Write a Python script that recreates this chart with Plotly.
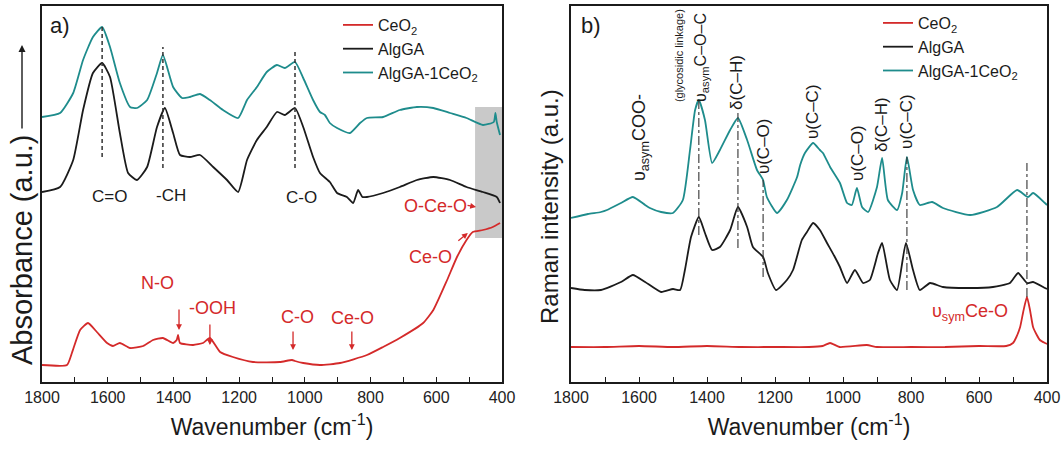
import plotly.graph_objects as go

# ---------------- data (wavenumber in cm-1, intensity in arbitrary units) -------------
# FTIR (panel a)
ir_w_ceo2 = [1800, 1724, 1709, 1684, 1660, 1633, 1602, 1584, 1563, 1532, 1492, 1462, 1432, 1401,
             1390, 1386, 1380, 1340, 1310, 1289, 1258, 1219, 1158, 1076, 1039, 1030, 1005, 954,
             893, 811, 762, 711, 640, 609, 567, 537, 508, 489, 458, 428, 406]
ir_a_ceo2 = [17, 17, 29, 52, 59, 50, 39, 36, 39, 34, 36, 42, 44, 39,
             42, 47, 39, 37, 39, 44, 30, 25, 20, 20, 22, 21, 19, 17,
             19, 27, 35, 44, 59, 72, 102, 125, 142, 150, 152, 155, 159]

ir_w_alg = [1800, 1745, 1705, 1675, 1645, 1617, 1593, 1563, 1538, 1511, 1480, 1450, 1426, 1401,
            1380, 1350, 1319, 1279, 1237, 1203, 1176, 1146, 1116, 1085, 1061, 1030, 1005, 975,
            954, 924, 902, 872, 853, 838, 825, 811, 762, 711, 659, 609, 558, 508, 458, 416, 406]
ir_a_alg = [190, 195, 222, 272, 309, 319, 305, 249, 209, 202, 215, 255, 274, 249,
            227, 225, 227, 215, 202, 190, 222, 242, 255, 270, 267, 274, 255, 225,
            209, 200, 189, 185, 179, 192, 185, 185, 189, 195, 202, 205, 202, 195, 190, 185, 179]

ir_w_comp = [1800, 1745, 1705, 1675, 1645, 1617, 1593, 1563, 1532, 1511, 1480, 1450, 1432, 1401,
             1374, 1350, 1319, 1289, 1249, 1203, 1176, 1146, 1116, 1085, 1061, 1030, 1005, 975,
             954, 939, 924, 902, 863, 832, 811, 762, 711, 659, 609, 558, 508, 458, 425, 420, 416, 406]
ir_a_comp = [265, 269, 289, 322, 345, 355, 335, 299, 275, 274, 282, 309, 327, 295,
             284, 285, 288, 282, 272, 264, 282, 295, 310, 317, 314, 320, 304, 282,
             270, 267, 259, 254, 249, 259, 264, 265, 272, 275, 274, 269, 264, 257, 260, 269, 260, 247]

# Raman (panel b)
ra_w_ceo2 = [1800, 1700, 1600, 1500, 1400, 1300, 1200, 1100, 1060, 1038, 1010, 930, 900, 800,
             700, 600, 520, 500, 490, 479, 470, 459, 450, 441, 430, 421, 406, 400]
ra_i_ceo2 = [35, 35, 36, 35, 36, 35, 35, 35, 36, 39, 35, 37, 35, 35,
             35, 36, 36, 39, 45, 55, 70, 85, 72, 55, 47, 42, 39, 38]

ra_w_alg = [1800, 1760, 1712, 1653, 1618, 1582, 1535, 1500, 1479, 1465, 1447, 1424, 1406, 1385,
            1362, 1332, 1309, 1282, 1265, 1235, 1221, 1197, 1165, 1147, 1121, 1106, 1088, 1068,
            1047, 1024, 1009, 988, 965, 941, 921, 897, 885, 862, 841, 815, 794, 774, 744, 706,
            626, 559, 509, 485, 459, 441, 406, 400]
ra_i_alg = [94, 92, 92, 100, 107, 100, 90, 93, 92, 112, 145, 165, 149, 132,
            135, 152, 175, 155, 135, 125, 109, 92, 102, 112, 142, 150, 159, 152,
            139, 125, 115, 99, 112, 99, 102, 129, 139, 102, 92, 139, 112, 92, 99, 95,
            94, 95, 99, 109, 99, 100, 94, 93]

ra_w_comp = [1800, 1750, 1712, 1694, 1653, 1618, 1582, 1568, 1535, 1500, 1471, 1450, 1435, 1424,
             1406, 1385, 1362, 1332, 1309, 1282, 1253, 1235, 1224, 1194, 1165, 1135, 1126, 1112,
             1088, 1068, 1059, 1038, 1009, 988, 974, 959, 944, 926, 900, 885, 868, 841, 826,
             812, 794, 774, 738, 706, 626, 547, 488, 456, 441, 406, 400]
ra_i_comp = [164, 168, 170, 172, 179, 185, 177, 174, 170, 169, 182, 232, 272, 282,
             262, 219, 232, 252, 264, 242, 212, 202, 185, 169, 182, 205, 217, 229,
             239, 232, 229, 215, 199, 179, 177, 194, 175, 170, 195, 224, 182, 172, 189,
             225, 192, 177, 180, 174, 167, 175, 192, 185, 189, 179, 177]

series_names = ["CeO<sub>2</sub>", "AlgGA", "AlgGA-1CeO<sub>2</sub>"]
x_ticks = [1800, 1600, 1400, 1200, 1000, 800, 600, 400]

# peak markers
ir_mark_w = [1617, 1432, 1030]
ir_mark_top = [355, 335, 332]
ir_mark_bot = [225, 214, 214]
ir_mark_lbl = ["C=O", "-CH", "C-O"]
ir_lbl_w = [1596, 1407, 1009]
ir_lbl_a = [186, 187, 185]

ra_mark_w = [1424, 1309, 1235, 812, 459]
ra_mark_top = [282, 272, 202, 225, 219]
ra_mark_bot = [147, 134, 105, 92, 85]

# ---------------- styling ----------------
W, H = 1062, 450
FONT = "Arial, Liberation Sans, sans-serif"
RED = "#d42a2a"
BLACK = "#1b1b1b"
TEAL = "#1e8c8c"
colors = [RED, BLACK, TEAL]


def px(p):
    return p / W


def py(p):
    return 1 - p / H


fig = go.Figure()

ir_sets = [(ir_w_ceo2, ir_a_ceo2), (ir_w_alg, ir_a_alg), (ir_w_comp, ir_a_comp)]
ra_sets = [(ra_w_ceo2, ra_i_ceo2), (ra_w_alg, ra_i_alg), (ra_w_comp, ra_i_comp)]

for (xs, ys), name, c in zip(ir_sets, series_names, colors):
    fig.add_trace(go.Scatter(x=xs, y=ys, mode="lines", name=name, legend="legend",
                             line=dict(color=c, width=1.8, shape="spline", smoothing=0.5),
                             xaxis="x", yaxis="y"))
for (xs, ys), name, c in zip(ra_sets, series_names, colors):
    fig.add_trace(go.Scatter(x=xs, y=ys, mode="lines", name=name, legend="legend2",
                             line=dict(color=c, width=1.8, shape="spline", smoothing=0.5),
                             xaxis="x2", yaxis="y2"))

shapes = []
# gray highlight box (panel a)
shapes.append(dict(type="rect", xref="x", yref="y", x0=482, x1=400, y0=144, y1=275,
                   fillcolor="#c9c9c9", line=dict(width=0), layer="below"))
for w, t, b in zip(ir_mark_w, ir_mark_top, ir_mark_bot):
    shapes.append(dict(type="line", xref="x", yref="y", x0=w, x1=w, y0=b, y1=t,
                       line=dict(color="#333333", width=1.5, dash="4px,3px")))
for w, t, b in zip(ra_mark_w, ra_mark_top, ra_mark_bot):
    shapes.append(dict(type="line", xref="x2", yref="y2", x0=w, x1=w, y0=b, y1=t,
                       line=dict(color="#333333", width=1.1, dash="dashdot")))

ann = []
# panel letters
ann.append(dict(x=1745, y=356, xref="x", yref="y", text="a)", showarrow=False,
                font=dict(size=22, color=BLACK, family=FONT)))
ann.append(dict(x=1741, y=356, xref="x2", yref="y2", text="b)", showarrow=False,
                font=dict(size=22, color=BLACK, family=FONT)))
for t, w, a in zip(ir_mark_lbl, ir_lbl_w, ir_lbl_a):
    ann.append(dict(x=w, y=a, xref="x", yref="y", text=t, showarrow=False,
                    font=dict(size=17, color=BLACK, family=FONT)))

# red labels in panel a
red_lbls = [("N-O", 1447, 99), ("-OOH", 1280, 74), ("C-O", 1021, 65), ("Ce-O", 854, 64),
            ("Ce-O", 619, 125), ("O-Ce-O", 601, 176)]
for t, w, a in red_lbls:
    ann.append(dict(x=w, y=a, xref="x", yref="y", text=t, showarrow=False,
                    font=dict(size=18, color=RED, family=FONT)))
# red arrows (tip position, tail offset in px)
red_arrows = [(1383, 52, 0, -22), (1289, 37, 0, -22), (1036, 32, 0, -20), (857, 32, 0, -20),
              (504, 149, -11, 9), (479, 175, -10, -2)]
for w, a, ax, ay in red_arrows:
    ann.append(dict(x=w, y=a, xref="x", yref="y", text="", showarrow=True, ax=ax, ay=ay,
                    arrowhead=2, arrowsize=0.9, arrowwidth=1.3, arrowcolor=RED, standoff=0))

# rotated labels in panel b
ra_lbls = [("υ<sub>asym</sub>COO-", 1597, 244, 18),
           ("(glycosidic linkage)", 1482, 326, 11),
           ("υ<sub>asym</sub>C–O–C", 1415, 325, 16),
           ("δ(C–H)", 1312, 300, 17),
           ("υ(C–O)", 1235, 236, 17),
           ("υ(C–C)", 1088, 270, 17),
           ("υ(C–O)", 959, 229, 17),
           ("δ(C–H)", 885, 257, 17),
           ("υ(C–C)", 812, 261, 17)]
for t, w, a, s in ra_lbls:
    ann.append(dict(x=w, y=a, xref="x2", yref="y2", text=t, showarrow=False, textangle=-90,
                    font=dict(size=s, color=BLACK, family=FONT)))
ann.append(dict(x=626, y=70, xref="x2", yref="y2", text="υ<sub>sym</sub>Ce-O", showarrow=False,
                font=dict(size=18, color=RED, family=FONT)))

# y-axis titles
ann.append(dict(x=px(22), y=py(250), xref="paper", yref="paper", text="Absorbance (a.u.)",
                xanchor="center", yanchor="middle",
                textangle=-90, showarrow=False, font=dict(size=29, color=BLACK, family=FONT)))
ann.append(dict(x=px(22), y=py(45), xref="paper", yref="paper", text="", showarrow=True,
                ax=0, ay=85, arrowhead=2, arrowsize=1, arrowwidth=1.4, arrowcolor=BLACK,
                standoff=0))
ann.append(dict(x=px(550), y=py(207), xref="paper", yref="paper", text="Raman intensity (a.u.)",
                xanchor="center", yanchor="middle",
                textangle=-90, showarrow=False, font=dict(size=24, color=BLACK, family=FONT)))

xcommon = dict(range=[1800, 400], showline=True, linecolor=BLACK, linewidth=1.5, mirror=True,
               ticks="inside", ticklen=5, tickwidth=1.4, tickcolor=BLACK,
               tickvals=x_ticks, ticktext=[str(v) for v in x_ticks],
               minor=dict(dtick=100, tick0=0, ticks="inside", ticklen=5, tickwidth=1.4,
                          tickcolor=BLACK),
               tickfont=dict(size=16, color="#222222", family=FONT),
               showgrid=False, zeroline=False, automargin=False,
               title=dict(text="Wavenumber (cm<sup>-1</sup>)", standoff=14,
                          font=dict(size=23, color=BLACK, family=FONT)))
ycommon = dict(range=[0, 376], showline=True, linecolor=BLACK, linewidth=1.5, mirror=True,
               ticks="", showticklabels=False, showgrid=False, zeroline=False,
               automargin=False, domain=[68 / H, 444 / H])

fig.update_layout(
    width=W, height=H,
    margin=dict(l=0, r=0, t=0, b=0, autoexpand=False),
    paper_bgcolor="white", plot_bgcolor="white",
    font=dict(family=FONT, color=BLACK),
    xaxis=dict(domain=[px(42), px(502)], anchor="y", **xcommon),
    yaxis=dict(anchor="x", **ycommon),
    xaxis2=dict(domain=[px(571), px(1047)], anchor="y2", **xcommon),
    yaxis2=dict(anchor="x2", **ycommon),
    legend=dict(x=px(338), y=py(8), xanchor="left", yanchor="top", bgcolor="rgba(0,0,0,0)",
                font=dict(size=16, color=BLACK, family=FONT)),
    legend2=dict(x=px(878), y=py(6), xanchor="left", yanchor="top", bgcolor="rgba(0,0,0,0)",
                 font=dict(size=16, color=BLACK, family=FONT)),
    shapes=shapes,
    annotations=ann,
)

fig.write_html("out.html")
